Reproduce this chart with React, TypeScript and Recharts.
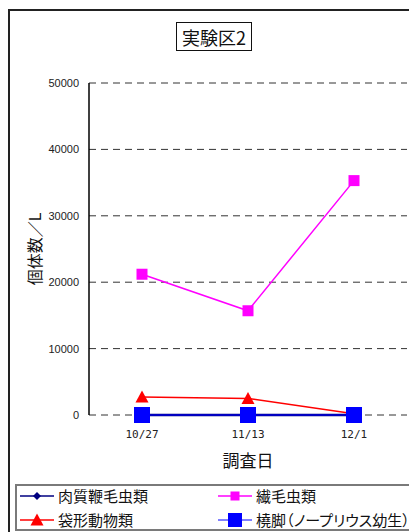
import React from 'react';
import { LineChart, Line, XAxis, YAxis, CartesianGrid, Legend, Label } from 'recharts';

const dates = ['10/27', '11/13', '12/1'];
const nikushitsu = [0, 0, 0];
const senmou = [21200, 15700, 35300];
const taikei = [2700, 2500, 200];
const kyakkyaku = [0, 0, 0];
const yTicks = [0, 10000, 20000, 30000, 40000, 50000];
const seriesKeys = ['a', 'b', 'c', 'd'];
const seriesNames = ['肉質鞭毛虫類', '繊毛虫類', '袋形動物類', '橈脚（ノープリウス幼生）'];

const data = dates.map((d, i) => ({
  date: d,
  a: nikushitsu[i],
  b: senmou[i],
  c: taikei[i],
  d: kyakkyaku[i],
}));

type Shape = 'diamond' | 'square' | 'triangle';
const styles: Record<string, { color: string; line: string; width: number; shape: Shape; size: number; legendWidth: number; legendSize: number }> = {
  a: { color: '#000080', line: '#000080', width: 2.5, shape: 'diamond', size: 8, legendWidth: 1.5, legendSize: 8 },
  b: { color: '#FF00FF', line: '#FF00FF', width: 1.5, shape: 'square', size: 11, legendWidth: 1.5, legendSize: 9 },
  c: { color: '#FF0000', line: '#FF0000', width: 1.5, shape: 'triangle', size: 13, legendWidth: 1.5, legendSize: 13 },
  d: { color: '#0000FF', line: '#0000FF', width: 1, shape: 'square', size: 16, legendWidth: 1, legendSize: 14 },
};

const Marker = ({ cx, cy, shape, size, color }: { cx: number; cy: number; shape: Shape; size: number; color: string }) => {
  if (cx == null || cy == null) return <g />;
  const h = size / 2;
  if (shape === 'square') return <rect x={cx - h} y={cy - h} width={size} height={size} fill={color} />;
  if (shape === 'diamond')
    return <polygon points={`${cx},${cy - h} ${cx + h},${cy} ${cx},${cy + h} ${cx - h},${cy}`} fill={color} />;
  return <polygon points={`${cx},${cy - h} ${cx + h},${cy + h * 0.85} ${cx - h},${cy + h * 0.85}`} fill={color} />;
};

const dotFor = (key: string) => (p: any) => {
  const s = styles[key];
  return <Marker key={`${key}-${p.index}`} cx={p.cx} cy={p.cy} shape={s.shape} size={s.size} color={s.color} />;
};

const FONT = '"Noto Sans CJK JP", "Noto Sans", sans-serif';

const LegendContent = (props: any) => {
  const payload = [...(props.payload || [])].sort(
    (x: any, y: any) => seriesKeys.indexOf(String(x.dataKey)) - seriesKeys.indexOf(String(y.dataKey))
  );
  const pos = [
    { x: 5, y: 12 },
    { x: 203, y: 12 },
    { x: 5, y: 36 },
    { x: 203, y: 36 },
  ];
  return (
    <div
      style={{
        position: 'relative',
        width: 410,
        height: 47,
        boxSizing: 'border-box',
        border: '2px solid #7a7a7a',
        background: '#fff',
        fontFamily: FONT,
      }}
    >
      {payload.map((entry: any, i: number) => {
        const s = styles[entry.dataKey as string];
        const p = pos[i];
        return (
          <div key={i} style={{ position: 'absolute', left: p.x - 2, top: p.y - 2 - 9, height: 18, display: 'flex', alignItems: 'center' }}>
            <svg width={34} height={18} style={{ display: 'block' }}>
              <line x1={0} y1={9} x2={34} y2={9} stroke={s.line} strokeWidth={s.legendWidth} />
              <Marker cx={17} cy={9} shape={s.shape} size={s.legendSize} color={s.color} />
            </svg>
            <span
              style={{
                marginLeft: 4,
                fontSize: 15,
                color: '#111',
                whiteSpace: 'nowrap',
                lineHeight: '18px',
                fontFeatureSettings: '"palt"',
              }}
            >
              {entry.value}
            </span>
          </div>
        );
      })}
    </div>
  );
};

export default function App() {
  return (
    <div style={{ position: 'absolute', left: 0, top: 0, width: 409, height: 532, overflow: 'hidden', background: '#fff' }}>
      <div
        style={{
          position: 'absolute',
          left: 8,
          top: 9,
          width: 430,
          height: 560,
          border: '2px solid #222',
          boxSizing: 'border-box',
          pointerEvents: 'none',
        }}
      />
      <LineChart width={409} height={532} data={data} margin={{ top: 83, right: 2, left: 29, bottom: 87 }}>
        <CartesianGrid horizontal vertical={false} stroke="#333" strokeDasharray="7 5" yAxisId="l" xAxisId="c" />
        <XAxis
          xAxisId="g"
          type="number"
          domain={[0, 3]}
          ticks={[0, 1, 2, 3]}
          height={0}
          mirror
          tickSize={4}
          tickFormatter={() => ''}
          axisLine={{ stroke: '#000', strokeWidth: 2 }}
          tickLine={{ stroke: '#000' }}
          allowDataOverflow
        />
        <XAxis
          xAxisId="c"
          dataKey="date"
          height={30}
          padding={{ left: 53, right: 53 }}
          axisLine={false}
          tickLine={false}
          tickMargin={9}
          tick={{ fontSize: 11, fill: '#222', fontFamily: '"DejaVu Sans Mono", monospace' }}
        >
          <Label
            content={(p: any) => {
              const vb = p.viewBox || { x: 89, y: 415, width: 318 };
              return (
                <text x={vb.x + vb.width / 2} y={vb.y + 44} textAnchor="middle" dominantBaseline="central" fontSize={17} fill="#111" fontFamily={FONT}>
                  調査日
                </text>
              );
            }}
          />
        </XAxis>
        <YAxis
          yAxisId="l"
          width={60}
          domain={[0, 50000]}
          ticks={yTicks}
          tickLine={false}
          tickSize={0}
          tickMargin={10}
          axisLine={{ stroke: '#000', strokeWidth: 1.5 }}
          tick={{ fontSize: 11, fill: '#222', fontFamily: '"Liberation Sans", Arial, sans-serif' }}
        >
          <Label
            content={(p: any) => {
              const vb = p.viewBox || { x: 29, y: 83, height: 332 };
              const x = vb.x + 5;
              const y = vb.y + vb.height / 2;
              return (
                <text
                  x={x}
                  y={y}
                  transform={`rotate(-90 ${x} ${y})`}
                  textAnchor="middle"
                  dominantBaseline="central"
                  fontSize={16}
                  fill="#111"
                  fontFamily={FONT}
                  style={{ fontFeatureSettings: '"palt"' }}
                >
                  個体数／L
                </text>
              );
            }}
          />
        </YAxis>
        <YAxis
          yAxisId="r"
          orientation="right"
          width={0}
          domain={[0, 50000]}
          tick={false}
          tickLine={false}
          axisLine={{ stroke: '#6a6a6a', strokeWidth: 2 }}
        />
        <Legend
          layout="horizontal"
          verticalAlign="middle"
          align="center"
          wrapperStyle={{ left: 15, top: 484, width: 410, height: 47 }}
          content={LegendContent}
        />
        <Line xAxisId="c" yAxisId="l" dataKey="a" name={seriesNames[0]} stroke={styles.a.line} strokeWidth={styles.a.width} dot={dotFor('a')} activeDot={false} isAnimationActive={false} />
        <Line xAxisId="c" yAxisId="l" dataKey="b" name={seriesNames[1]} stroke={styles.b.line} strokeWidth={styles.b.width} dot={dotFor('b')} activeDot={false} isAnimationActive={false} />
        <Line xAxisId="c" yAxisId="l" dataKey="c" name={seriesNames[2]} stroke={styles.c.line} strokeWidth={styles.c.width} dot={dotFor('c')} activeDot={false} isAnimationActive={false} />
        <Line xAxisId="c" yAxisId="l" dataKey="d" name={seriesNames[3]} stroke={styles.d.line} strokeWidth={styles.d.width} dot={dotFor('d')} activeDot={false} isAnimationActive={false} />
      </LineChart>
      <div
        style={{
          position: 'absolute',
          left: 176,
          top: 22,
          width: 76,
          height: 29,
          boxSizing: 'border-box',
          border: '1px solid #111',
          display: 'flex',
          alignItems: 'center',
          justifyContent: 'center',
          fontFamily: FONT,
          fontSize: 18,
          color: '#111',
          background: '#fff',
        }}
      >
        実験区2
      </div>
    </div>
  );
}
